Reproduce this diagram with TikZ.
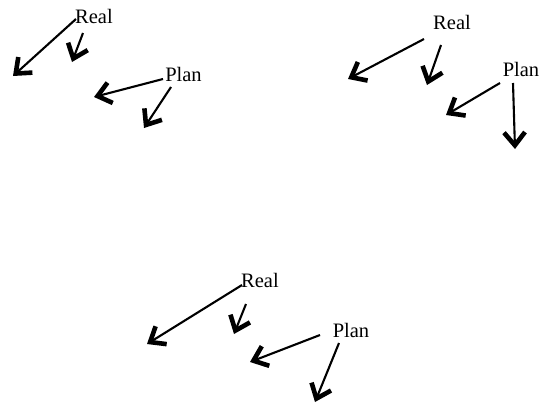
\documentclass[tikz,border=0pt]{standalone}
\usepackage{fontspec}
\setmainfont{Liberation Serif}
\usepackage{tikz}
\usetikzlibrary{arrows.meta, positioning}

\tikzset{
    word/.style={inner sep=0pt, font=\fontsize{20.5}{24}\selectfont},
    vec/.style={line width=2.1pt, -{Straight Barb[length=13pt, width=21pt, line width=4.6pt]}}
}

\begin{document}
\begin{tikzpicture}[x=1pt, y=-1pt]

        \useasboundingbox (0, 0) rectangle (540, 415);

        % Top left group
        \node[word] (real1) at (94, 16) {Real};
        \node[word] (plan1) at (183.5, 74) {Plan};
        \coordinate (a1) at (76, 19);  \coordinate (a1e) at (13, 76);
        \coordinate (b1) at (83, 33);  \coordinate (b1e) at (72, 62);
        \coordinate (c1) at (163, 79); \coordinate (c1e) at (94, 97);
        \coordinate (d1) at (171, 87); \coordinate (d1e) at (144, 128);
        \draw[vec] (a1) -- (a1e);
        \draw[vec] (b1) -- (b1e);
        \draw[vec] (c1) -- (c1e);
        \draw[vec] (d1) -- (d1e);

        % Top right group
        \node[word] (real2) at (452, 22) {Real};
        \node[word] (plan2) at (521, 69) {Plan};
        \coordinate (a2) at (424, 39); \coordinate (a2e) at (348, 79);
        \coordinate (b2) at (441, 45); \coordinate (b2e) at (427, 85);
        \coordinate (c2) at (500, 83); \coordinate (c2e) at (446, 115);
        \coordinate (d2) at (513, 83); \coordinate (d2e) at (515, 149);
        \draw[vec] (a2) -- (a2e);
        \draw[vec] (b2) -- (b2e);
        \draw[vec] (c2) -- (c2e);
        \draw[vec] (d2) -- (d2e);

        % Bottom group
        \node[word] (real3) at (260, 280) {Real};
        \node[word] (plan3) at (351, 330) {Plan};
        \coordinate (a3) at (242, 285); \coordinate (a3e) at (147, 344);
        \coordinate (b3) at (246, 304); \coordinate (b3e) at (234, 334);
        \coordinate (c3) at (320, 335); \coordinate (c3e) at (250, 362);
        \coordinate (d3) at (339, 343); \coordinate (d3e) at (315, 402);
        \draw[vec] (a3) -- (a3e);
        \draw[vec] (b3) -- (b3e);
        \draw[vec] (c3) -- (c3e);
        \draw[vec] (d3) -- (d3e);

    \end{tikzpicture}
\end{document}
